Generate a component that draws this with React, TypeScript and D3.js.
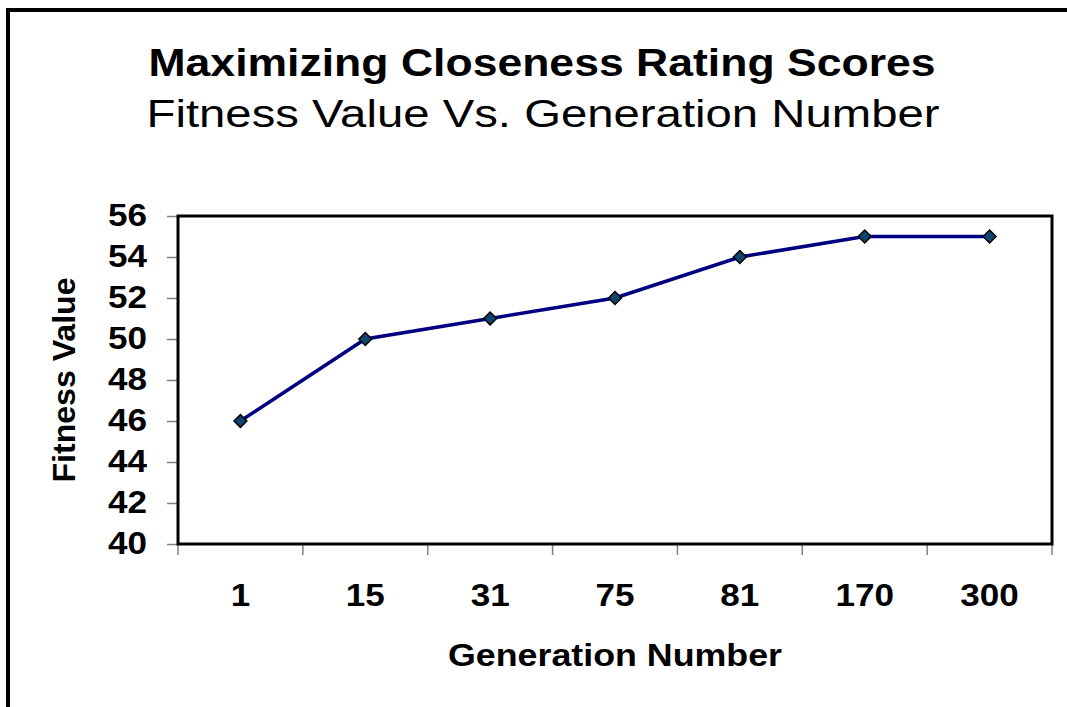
import * as React from 'react';
import { useEffect, useRef } from 'react';
import * as d3 from 'd3';

const generations = ['1', '15', '31', '75', '81', '170', '300'];
const fitness = [46, 50, 51, 52, 54, 55, 55];
const yTicks = [40, 42, 44, 46, 48, 50, 52, 54, 56];

const chartTitle = 'Maximizing Closeness Rating Scores';
const chartSubtitle = 'Fitness Value Vs. Generation Number';
const xTitle = 'Generation Number';
const yTitle = 'Fitness Value';

export default function App() {
    const svgRef = useRef<SVGSVGElement>(null);

    useEffect(() => {
        if (!svgRef.current) return;
        const width = 1067;
        const height = 707;
        const plot = { left: 178, top: 216, right: 1052, bottom: 544 };
        const font = 'Arial, "Liberation Sans", sans-serif';
        const digitW = 19.5; // the original text is a bit stretched sideways

        const svg = d3.select(svgRef.current);
        svg.selectAll('*').remove();

        // outer chart frame (runs off the right and bottom edge)
        svg.append('rect')
            .attr('x', 8).attr('y', 10)
            .attr('width', width + 20).attr('height', height + 20)
            .attr('fill', '#fff')
            .attr('stroke', '#000')
            .attr('stroke-width', 4);

        const x = d3.scaleBand()
            .domain(generations)
            .range([plot.left, plot.right]);

        const y = d3.scaleLinear()
            .domain([40, 56])
            .range([plot.bottom, plot.top]);

        // titles
        svg.append('text')
            .attr('x', 542).attr('y', 76)
            .attr('text-anchor', 'middle')
            .attr('font-family', font)
            .attr('font-size', 39)
            .attr('font-weight', 'bold')
            .attr('textLength', 787)
            .attr('lengthAdjust', 'spacingAndGlyphs')
            .text(chartTitle);
        svg.append('text')
            .attr('x', 543).attr('y', 127)
            .attr('text-anchor', 'middle')
            .attr('font-family', font)
            .attr('font-size', 38)
            .attr('textLength', 793)
            .attr('lengthAdjust', 'spacingAndGlyphs')
            .text(chartSubtitle);

        // y axis ticks + labels
        const yAxis = d3.axisLeft(y).tickValues(yTicks).tickSize(11).tickPadding(20).tickFormat(d3.format('d'));
        const gy = svg.append('g')
            .attr('transform', `translate(${plot.left},0)`)
            .call(yAxis);
        gy.select('.domain').remove();
        gy.selectAll('.tick line').attr('stroke', '#808080').attr('stroke-width', 1.5);
        gy.selectAll<SVGTextElement, number>('.tick text')
            .attr('font-family', font)
            .attr('font-size', 31)
            .attr('font-weight', 'bold')
            .attr('fill', '#000')
            .attr('textLength', d => String(d).length * digitW)
            .attr('lengthAdjust', 'spacingAndGlyphs');

        // x axis: ticks on band edges, labels at band centres
        const edges = generations.map(g => x(g) as number).concat([plot.right]);
        svg.append('g')
            .selectAll('line')
            .data(edges)
            .enter().append('line')
            .attr('x1', d => d).attr('x2', d => d)
            .attr('y1', plot.bottom).attr('y2', plot.bottom + 11)
            .attr('stroke', '#808080')
            .attr('stroke-width', 1.5);
        svg.append('g')
            .selectAll('text')
            .data(generations)
            .enter().append('text')
            .attr('x', d => (x(d) as number) + x.bandwidth() / 2)
            .attr('y', 606)
            .attr('text-anchor', 'middle')
            .attr('font-family', font)
            .attr('font-size', 32)
            .attr('font-weight', 'bold')
            .attr('textLength', d => d.length * digitW)
            .attr('lengthAdjust', 'spacingAndGlyphs')
            .text(d => d);

        // plot frame
        svg.append('rect')
            .attr('x', plot.left).attr('y', plot.top)
            .attr('width', plot.right - plot.left)
            .attr('height', plot.bottom - plot.top)
            .attr('fill', 'none')
            .attr('stroke', '#000')
            .attr('stroke-width', 3);

        // axis titles
        svg.append('text')
            .attr('x', 615).attr('y', 666)
            .attr('text-anchor', 'middle')
            .attr('font-family', font)
            .attr('font-size', 31)
            .attr('font-weight', 'bold')
            .attr('textLength', 334)
            .attr('lengthAdjust', 'spacingAndGlyphs')
            .text(xTitle);
        svg.append('text')
            .attr('transform', `translate(75,380) rotate(-90)`)
            .attr('text-anchor', 'middle')
            .attr('font-family', font)
            .attr('font-size', 31)
            .attr('font-weight', 'bold')
            .attr('textLength', 205)
            .attr('lengthAdjust', 'spacingAndGlyphs')
            .text(yTitle);

        const pts = generations.map((g, i) => ({ g, v: fitness[i] }));
        const cx = (d: { g: string }) => (x(d.g) as number) + x.bandwidth() / 2;

        const line = d3.line<typeof pts[0]>()
            .x(d => cx(d))
            .y(d => y(d.v));

        svg.append('path')
            .datum(pts)
            .attr('fill', 'none')
            .attr('stroke', '#000080')
            .attr('stroke-width', 3.5)
            .attr('d', line);

        const diamond = d3.symbol().type(d3.symbolDiamond2).size(105);
        svg.selectAll('.marker')
            .data(pts)
            .enter().append('path')
            .attr('class', 'marker')
            .attr('transform', d => `translate(${cx(d)},${y(d.v)})`)
            .attr('d', diamond)
            .attr('fill', '#0f4470')
            .attr('stroke', '#000')
            .attr('stroke-width', 1.5);
    }, []);

    return (
        <div style={{ position: 'absolute', left: 0, top: 0, width: 1067, height: 707, overflow: 'hidden', background: '#fff' }}>
            <svg ref={svgRef} width={1067} height={707}></svg>
        </div>
    );
}
